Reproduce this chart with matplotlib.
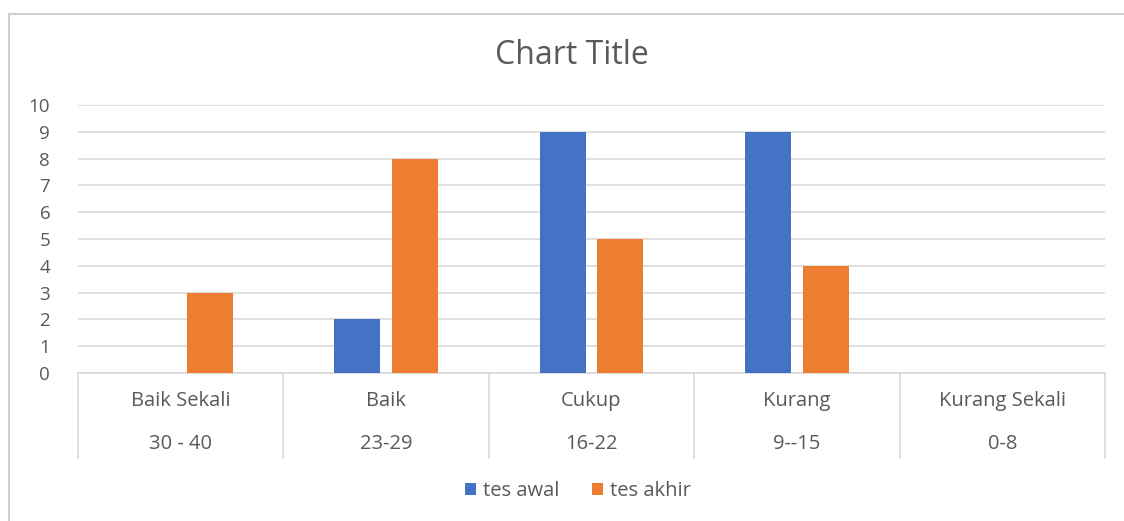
import matplotlib
matplotlib.use("Agg")
import matplotlib.pyplot as plt
import matplotlib.transforms as mtransforms
from matplotlib.patches import Rectangle
import numpy as np

categories = ["Baik Sekali", "Baik", "Cukup", "Kurang", "Kurang Sekali"]
ranges = ["30 - 40", "23-29", "16-22", "9--15", "0-8"]
tes_awal = [0, 2, 9, 9, 0]
tes_akhir = [3, 8, 5, 4, 0]

blue = "#4472c4"
orange = "#ed7d31"
grey_txt = "#595959"
grid_col = "#d9d9d9"

plt.rcParams['font.family'] = ['Open Sans', 'DejaVu Sans']

fig = plt.figure(figsize=(11.24, 5.21), dpi=100)
ax = fig.add_axes([78/1124, 1-373/521, (1105-78)/1124, (373-105)/521])

x = np.arange(len(categories))
w = 0.224
off = 0.141
ax.bar(x - off, tes_awal, w, color=blue, label="tes awal", zorder=3)
ax.bar(x + off, tes_akhir, w, color=orange, label="tes akhir", zorder=3)

ax.set_xlim(-0.5, len(categories) - 0.5)
ax.set_ylim(0, 10)
ax.set_yticks(range(0, 11))
ax.yaxis.grid(True, color=grid_col, linewidth=1.2, zorder=0)
ax.tick_params(axis='y', length=0, labelsize=13.5, labelcolor=grey_txt, pad=20)
ax.set_xticks([])
for s in ["top", "right", "left"]:
    ax.spines[s].set_visible(False)
ax.spines["bottom"].set_color(grid_col)
ax.spines["bottom"].set_linewidth(1.2)

# two-level category labels with separators
trans = mtransforms.blended_transform_factory(ax.transData, ax.transAxes)
box_h = (458 - 373) / 268
for b in np.arange(-0.5, len(categories), 1.0):
    ax.plot([b, b], [0, -box_h], color=grid_col, lw=1.2, transform=trans, clip_on=False)
for i, (c, r) in enumerate(zip(categories, ranges)):
    ax.text(i, -(401 - 373) / 268, c, transform=trans, ha="center", va="center",
            fontsize=14.5, color=grey_txt)
    ax.text(i, -(444 - 373) / 268, r, transform=trans, ha="center", va="center",
            fontsize=14.5, color=grey_txt)

fig.text(572/1124, 1-55/521, "Chart Title", ha="center", va="center",
         fontsize=23, color=grey_txt)

fig.legend(loc="center", bbox_to_anchor=(578/1124, 1-491/521), ncol=2, frameon=False,
           fontsize=14.5, labelcolor=grey_txt, handlelength=0.55, handleheight=0.55,
           handletextpad=0.35, columnspacing=1.6)

fig.patches.append(Rectangle((9/1124, -0.02), 1.05, 1-14/521+0.02, transform=fig.transFigure,
                             fill=False, edgecolor="#d0d0d0", linewidth=1.5))

fig.savefig("out.png", dpi=100)
